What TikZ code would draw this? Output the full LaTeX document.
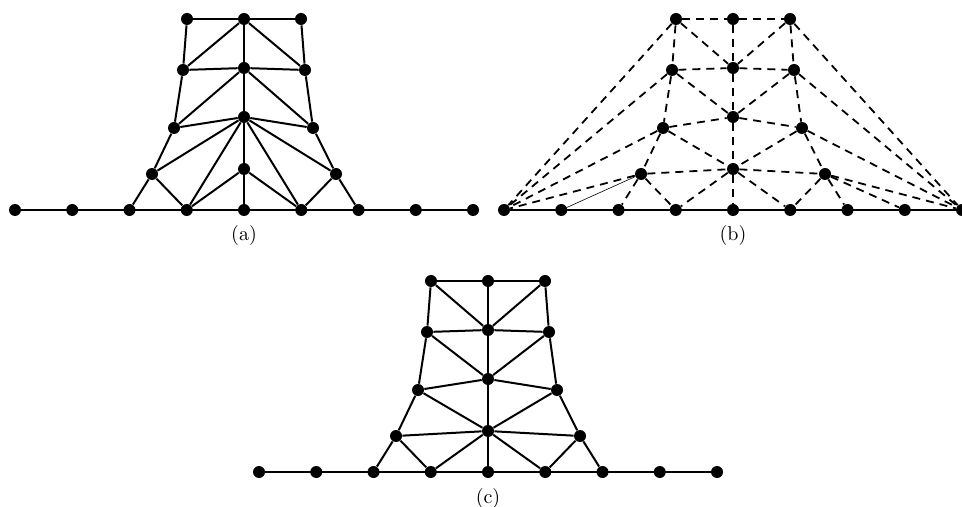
\documentclass[tikz,border=0pt]{standalone}
\usepackage{tikz}

% the same mesh nodes in every panel, #1 = prefix
\newcommand{\meshnodes}[1]{%
  \foreach \i in {0,...,8}
    \node[vtx] (#1b\i) at ({(\i-4)*57.25},210) {};
  \node[vtx] (#1t1) at (-57,19) {};
  \node[vtx] (#1t2) at (0,19) {};
  \node[vtx] (#1t3) at (57,19) {};
  \node[vtx] (#1l2) at (-61,70) {};
  \node[vtx] (#1c2) at (0,68) {};
  \node[vtx] (#1r2) at (61,70) {};
  \node[vtx] (#1l3) at (-70,128) {};
  \node[vtx] (#1c3) at (0,117) {};
  \node[vtx] (#1r3) at (69,128) {};
  \node[vtx] (#1l4) at (-92,174) {};
  \node[vtx] (#1c4) at (0,169) {};
  \node[vtx] (#1r4) at (92,174) {};
}

\begin{document}
\begin{tikzpicture}[x=0.5pt, y=-0.5pt,
  vtx/.style={circle, fill=black, inner sep=0pt, minimum size=6pt},
  edge/.style={black, line width=1pt},
  dashedge/.style={black, line width=0.9pt, dash pattern=on 4pt off 3pt},
  thinedge/.style={black, line width=0.3pt}]

\useasboundingbox (0,0) rectangle (962,507);

% (a)
\begin{scope}[shift={(244,0)}]
\meshnodes{a}
\draw[edge] (ab0) -- (ab8);
\foreach \u/\v in {t1/t2, t2/t3, t1/l2, t3/r2, t2/c2, t2/l2, t2/r2,
    l2/c2, c2/r2, c2/c3, c2/l3, c2/r3, l2/l3, r2/r3, l3/c3, c3/r3,
    c3/l4, c3/r4, c3/b3, c3/b5, c3/c4, l3/l4, r3/r4,
    l4/b2, l4/b3, r4/b5, r4/b6, c4/b3, c4/b5, c4/b4}
  \draw[edge] (a\u) -- (a\v);
\node (capa) at (0,236) {(a)};
\end{scope}

% (b)
\begin{scope}[shift={(733,0)}]
\meshnodes{b}
\draw[edge] (bb0) -- (bb8);
\foreach \u/\v in {t1/t2, t2/t3, t1/l2, t1/c2, t2/c2, t3/c2, t3/r2, t1/b0, t3/b8,
    l2/c2, c2/r2, l2/b0, r2/b8, l2/c3, r2/c3, c2/c3, l2/l3, r2/r3,
    l3/c3, c3/r3, l3/b0, r3/b8, l3/c4, r3/c4, c3/c4, l3/l4, r3/r4,
    l4/c4, c4/r4, l4/b0, r4/b8, r4/b7, l4/b2, l4/b3, r4/b5, r4/b6,
    c4/b3, c4/b4, c4/b5}
  \draw[dashedge] (b\u) -- (b\v);
\draw[thinedge] (bl4) -- (bb1);
\node (capb) at (0,236) {(b)};
\end{scope}

% (c)
\begin{scope}[shift={(488,262)}]
\meshnodes{c}
\draw[edge] (cb0) -- (cb8);
\foreach \u/\v in {t1/t2, t2/t3, t1/l2, t3/r2, t1/c2, t3/c2, t2/c2,
    l2/c2, c2/r2, l2/c3, r2/c3, c2/c3, l2/l3, r2/r3, l3/c3, c3/r3,
    l3/c4, r3/c4, c3/c4, l3/l4, r3/r4, l4/c4, c4/r4,
    l4/b2, l4/b3, r4/b5, r4/b6, c4/b3, c4/b4, c4/b5}
  \draw[edge] (c\u) -- (c\v);
\node (capc) at (0,236) {(c)};
\end{scope}

\end{tikzpicture}
\end{document}
